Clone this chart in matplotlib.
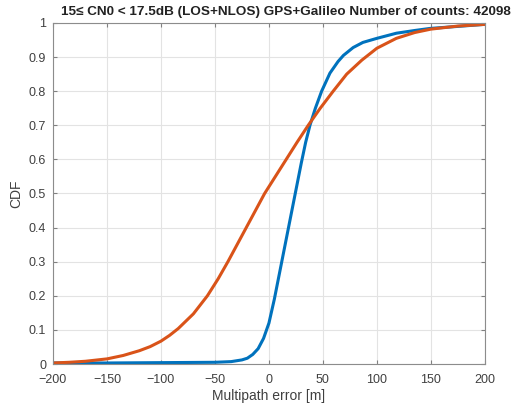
import matplotlib.pyplot as plt

# CDF values
blue_x = [-200, -150, -100, -50, -35, -25, -20, -15, -10, -5, 0, 5, 10, 15, 20, 25,
          30, 34, 38, 43, 48.8, 56.5, 64, 69, 78, 87, 100, 118, 135, 149, 175, 200]
blue_y = [0.003, 0.003, 0.004, 0.005, 0.007, 0.012, 0.017, 0.028, 0.045, 0.075, 0.12,
          0.19, 0.27, 0.35, 0.43, 0.51, 0.59, 0.65, 0.7, 0.75, 0.8, 0.853, 0.887, 0.905,
          0.928, 0.943, 0.955, 0.97, 0.978, 0.984, 0.99, 0.996]

orange_x = [-200, -185, -170, -150, -135, -120, -110, -100, -92, -84, -70, -57, -47,
            -38, -29.5, -21, -12.5, -4, 6, 16, 26, 36.4, 47.5, 59.5, 72, 86, 100, 118,
            135, 150, 175, 200]
orange_y = [0.003, 0.005, 0.008, 0.015, 0.025, 0.039, 0.051, 0.067, 0.084, 0.104, 0.147,
            0.2, 0.25, 0.3, 0.35, 0.4, 0.45, 0.5, 0.55, 0.6, 0.65, 0.7, 0.75, 0.8,
            0.85, 0.891, 0.926, 0.955, 0.972, 0.982, 0.991, 0.996]

x_ticks = [-200, -150, -100, -50, 0, 50, 100, 150, 200]
y_ticks = [0, 0.1, 0.2, 0.3, 0.4, 0.5, 0.6, 0.7, 0.8, 0.9, 1]
y_labels = ['0', '0.1', '0.2', '0.3', '0.4', '0.5', '0.6', '0.7', '0.8', '0.9', '1']

plt.rcParams['font.family'] = ['Liberation Sans', 'DejaVu Sans']

fig = plt.figure(figsize=(5.16, 4.12), dpi=100)
ax = fig.add_axes([0.1027, 0.1165, 0.837, 0.8277])

ax.plot(blue_x, blue_y, color='#0072BD', lw=2.2, solid_joinstyle='round')
ax.plot(orange_x, orange_y, color='#D95319', lw=2.2, solid_joinstyle='round')

ax.set_xlim(-200, 200)
ax.set_ylim(0, 1)
ax.set_xticks(x_ticks)
ax.set_yticks(y_ticks)
ax.set_yticklabels(y_labels)
ax.grid(True, color='#e3e3e3', lw=0.8)
ax.tick_params(direction='in', length=3, color='#808080', labelcolor='#404040',
               labelsize=9, top=True, right=True)
ax.tick_params(axis='x', pad=7)
ax.tick_params(axis='y', pad=5)
for s in ax.spines.values():
    s.set_color('#8c8c8c')
    s.set_linewidth(0.8)

ax.set_xlabel('Multipath error [m]', fontsize=10, color='#404040', labelpad=2)
ax.set_ylabel('CDF', fontsize=10, color='#404040', labelpad=4)

fig.text(0.555, 0.985, '15\u2264 CN0 < 17.5dB (LOS+NLOS) GPS+Galileo Number of counts: 42098',
         ha='center', va='top', fontsize=9.7, fontweight='bold', color='#222222')

fig.savefig('out.png', dpi=100)
